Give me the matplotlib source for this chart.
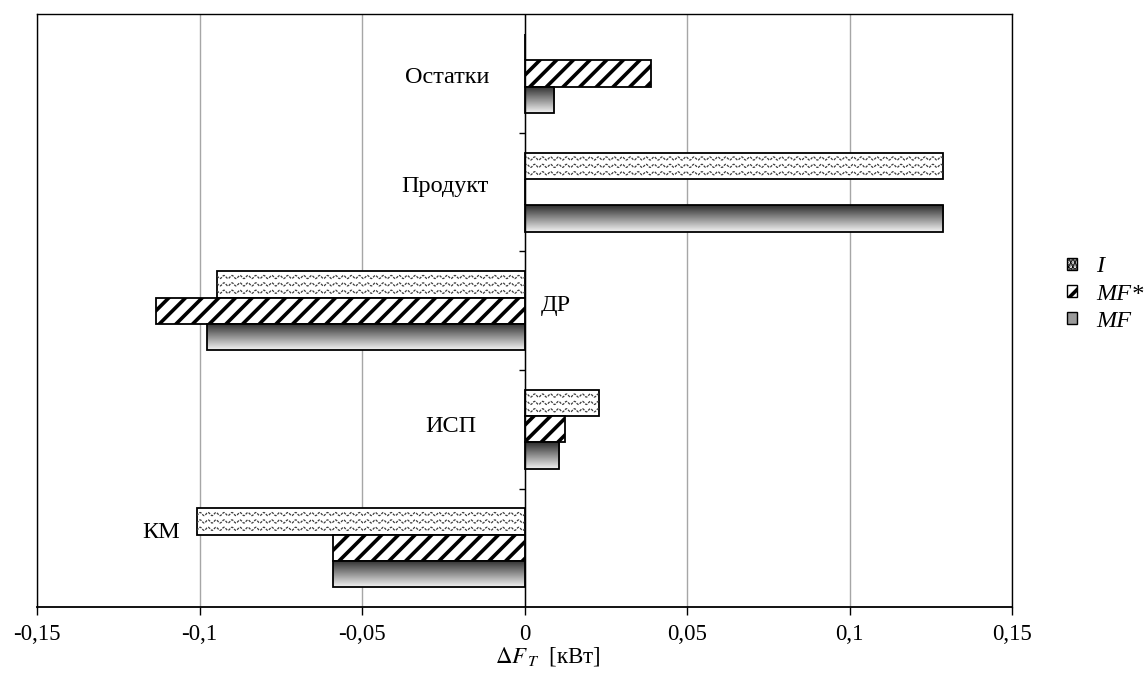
#!/usr/bin/env python3
"""Exergy change per block: horizontal grouped bars for I, MF* and MF."""

import matplotlib

matplotlib.use("Agg")
import matplotlib.pyplot as plt
import numpy as np
from matplotlib.markers import TICKLEFT
from matplotlib.patches import Patch

plt.rcParams["font.family"] = ["Liberation Serif", "DejaVu Serif"]
plt.rcParams["mathtext.fontset"] = "stix"
plt.rcParams["hatch.linewidth"] = 2.6

categories = ["КМ", "ИСП", "ДР", "Продукт", "Остатки"]
series_names = ["I", "MF*", "MF"]
values_i = [-0.1009, 0.0228, -0.0946, 0.1288, 0.0]
values_mf_star = [-0.0591, 0.0124, -0.1135, 0.0, 0.0387]
values_mf = [-0.0591, 0.0106, -0.0978, 0.1288, 0.0090]

x_ticks = [-0.15, -0.1, -0.05, 0, 0.05, 0.1, 0.15]
x_tick_labels = ["-0,15", "-0,1", "-0,05", "0", "0,05", "0,1", "0,15"]

# where each category name sits: x in kW, shift from the group centre, alignment
label_x = [-0.106, -0.015, 0.005, -0.011, -0.011]
label_dy = [0.13, 0.02, 0.046, 0.05, -0.03]
label_ha = ["right", "right", "left", "right", "right"]

BAR_H = 1 / 4.5
y = np.arange(len(categories))

fig, ax = plt.subplots(figsize=(11.47, 6.73), dpi=100)
fig.subplots_adjust(left=0.0323, right=0.8826, bottom=0.098, top=0.9786)

# I: white bars with rows of small grey waves
bars_i = ax.barh(y + BAR_H, values_i, height=BAR_H, facecolor="white",
                 edgecolor="black", linewidth=1.3, zorder=3)
wave_len = 0.00245
wave_amp = 0.013
for bar in bars_i:
    x0, y0 = bar.get_x(), bar.get_y()
    w, h = bar.get_width(), bar.get_height()
    if w == 0:
        continue
    xs = np.linspace(min(x0, x0 + w), max(x0, x0 + w), 800)
    for frac in (0.22, 0.5, 0.78):
        ys = y0 + frac * h + wave_amp * np.sin(2 * np.pi * xs / wave_len)
        ln, = ax.plot(xs, ys, color="#3c3c3c", lw=0.9, ls=(0, (2, 1)), zorder=3.5)
        ln.set_clip_path(bar)

# MF*: black diagonal stripes
ax.barh(y, values_mf_star, height=BAR_H, facecolor="white", edgecolor="black",
        hatch="//", linewidth=1.3, zorder=3)

# MF: vertical grey gradient, dark on top
bars_mf = ax.barh(y - BAR_H, values_mf, height=BAR_H, facecolor="none",
                  edgecolor="black", linewidth=1.3, zorder=4)
shade = np.linspace(0.95, 0.18, 64).reshape(-1, 1)
for bar in bars_mf:
    x0, y0 = bar.get_x(), bar.get_y()
    w, h = bar.get_width(), bar.get_height()
    if w == 0:
        continue
    im = ax.imshow(shade, cmap="gray", vmin=0, vmax=1, origin="lower",
                   extent=(min(x0, x0 + w), max(x0, x0 + w), y0, y0 + h),
                   aspect="auto", interpolation="bilinear", zorder=3)
    im.set_clip_path(bar)

for i, name in enumerate(categories):
    ax.text(label_x[i], y[i] + label_dy[i], name, ha=label_ha[i], va="center",
            fontsize=17.5)

ax.axvline(0, color="black", lw=1.0, zorder=5)
ax.plot(np.zeros(len(categories) - 1), y[:-1] + 0.5, ls="none",
        marker=TICKLEFT, ms=4, mew=1, color="black", zorder=5)

ax.set_xlim(-0.15, 0.15)
ax.set_ylim(-0.5, len(categories) - 0.5)
ax.set_xticks(x_ticks)
ax.set_xticklabels(x_tick_labels, fontsize=16.5)
ax.set_yticks([])
ax.tick_params(axis="x", direction="out", length=6, width=1, pad=6)
ax.xaxis.grid(True, color="#a6a6a6", lw=1)
ax.set_axisbelow(True)
for sp in ax.spines.values():
    sp.set_color("black")
    sp.set_linewidth(1.0)
ax.spines["bottom"].set_linewidth(1.3)

ax.set_xlabel(r"$\Delta F_{\,T}$  [кВт]", fontsize=16.5)
ax.xaxis.set_label_coords(0.524, -0.083)
ax.xaxis.label.set_va("center")

handles = [
    Patch(facecolor="white", edgecolor="black", hatch="...."),
    Patch(facecolor="white", edgecolor="black", hatch="//"),
    Patch(facecolor="#9a9a9a", edgecolor="black"),
]
fig.legend(handles, series_names, loc="center left",
           bbox_to_anchor=(1067 / 1147, 1 - 294 / 673), frameon=False,
           prop={"family": "Liberation Serif", "style": "italic", "size": 17.5},
           handlelength=0.4, handleheight=0.4, handletextpad=0.8,
           labelspacing=0.25, borderpad=0, borderaxespad=0)

fig.savefig("out.png", dpi=100)
plt.close(fig)
